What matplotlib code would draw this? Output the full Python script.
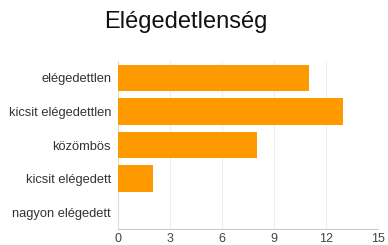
import matplotlib
matplotlib.use("Agg")
import matplotlib.pyplot as plt

categories = ["elégedettlen", "kicsit elégedettlen", "közömbös", "kicsit elégedett", "nagyon elégedett"]
values = [11, 13, 8, 2, 0]
xticks = [0, 3, 6, 9, 12, 15]
title = "Elégedetlenség"

plt.rcParams['font.family'] = ['Liberation Sans', 'DejaVu Sans']
fig = plt.figure(figsize=(3.88, 2.45), dpi=100)
ax = fig.add_axes([118/388, 1-229/245, (378-118)/388, (229-61)/245])
y = list(range(len(categories)))
ax.barh(y, values, height=0.78, color="#FF9900", zorder=3)
ax.set_ylim(len(categories)-0.5, -0.5)
ax.set_xlim(0, 15)
ax.set_xticks(xticks)
ax.set_xticklabels([str(t) for t in xticks], fontsize=9, color="#444444")
ax.set_yticks(y)
ax.set_yticklabels(categories, fontsize=9.3, color="#333333")
ax.tick_params(axis='y', length=0, pad=5)
ax.tick_params(axis='x', length=0, pad=3)
ax.grid(axis='x', color="#eeeeee", linewidth=0.8, zorder=0)
for s in ["top", "right"]:
    ax.spines[s].set_visible(False)
ax.spines["left"].set_color("#dddddd")
ax.spines["bottom"].set_color("#cccccc")
fig.text(186/388, 1-22/245, title, ha="center", va="center", fontsize=17, color="#111111")
fig.savefig("out.png", dpi=100)
